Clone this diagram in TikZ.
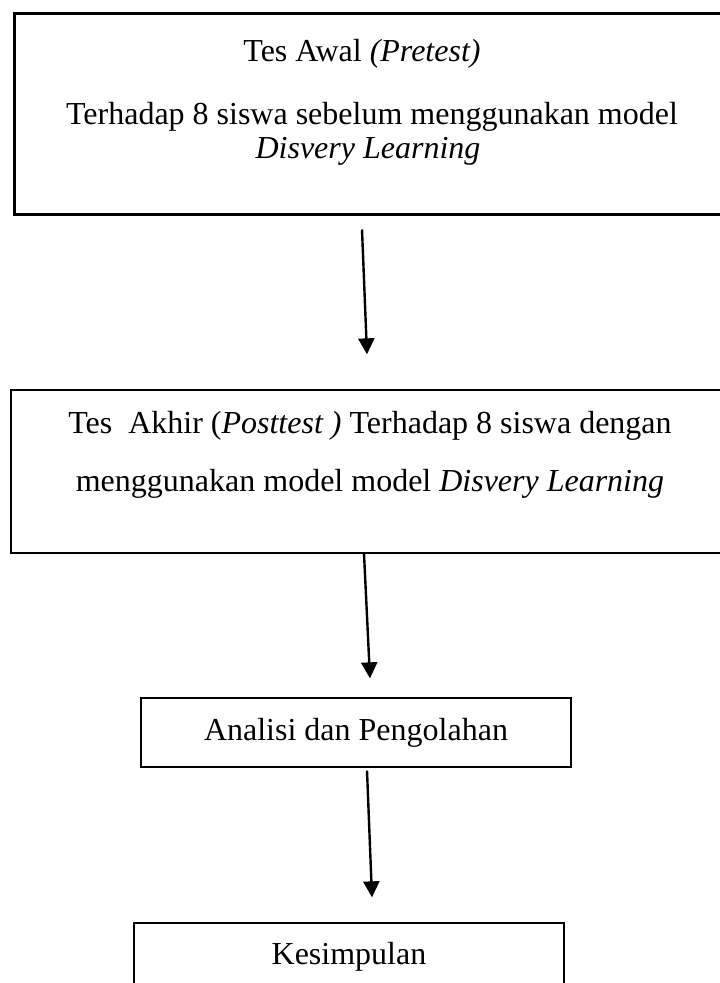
\documentclass[tikz,border=0pt]{standalone}
\usepackage{fontspec}
\setmainfont{Liberation Serif}
\usetikzlibrary{arrows.meta, positioning}

\begin{document}
\begin{tikzpicture}[
    x=1pt, y=-1pt,
    font=\fontsize{32}{36}\selectfont,
    kotak/.style={draw, line width=1.3pt, inner sep=0pt, align=center},
    teks/.style={anchor=base, inner sep=0pt},
    panah/.style={-{Triangle[length=16pt, width=16pt]}, line width=2.4pt}
  ]
    % Batas gambar mengikuti ukuran halaman asli.
    \clip (0,0) rectangle (720,983);
    \node[kotak, line width=3pt, minimum width=716pt, minimum height=201pt] (awal) at (372,113.5) {};
    \node[teks] (awal1) at (362,61) {Tes Awal \textit{(Pretest)}};
    \node[teks] (awal2) at (372,124) {Terhadap 8 siswa sebelum menggunakan model};
    \node[teks] (awal3) at (368,158) {\textit{Disvery Learning}};
    \node[kotak, minimum width=719pt, minimum height=163pt] (akhir) at (370.5,471.5) {};
    \node[teks] (akhir1) at (370,433) {Tes\ \ Akhir (\textit{Posttest )} Terhadap 8 siswa dengan};
    \node[teks] (akhir2) at (370,491) {menggunakan model model \textit{Disvery Learning}};
    \node[kotak, minimum width=430pt, minimum height=69pt] (analisi) at (356,732.5) {Analisi dan Pengolahan};
    \node[kotak, minimum width=430pt, minimum height=67pt] (simpul) at (349,956.5) {Kesimpulan};
    \draw[panah] ([xshift=-10pt, yshift=-14pt]awal.south) -- ([xshift=-3.5pt, yshift=35pt]akhir.north);
    \draw[panah] ([xshift=-6.5pt]akhir.south) -- ([xshift=14pt, yshift=19pt]analisi.north);
    \draw[panah] ([xshift=11pt, yshift=-3pt]analisi.south) -- ([xshift=23pt, yshift=25pt]simpul.north);
  \end{tikzpicture}
\end{document}
